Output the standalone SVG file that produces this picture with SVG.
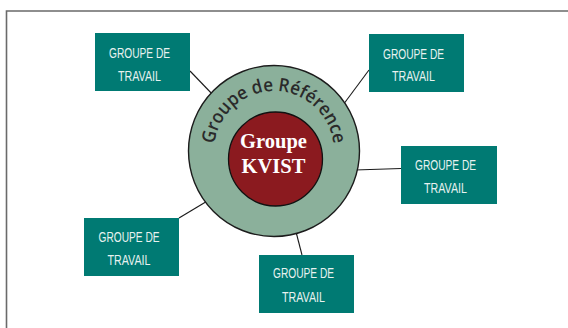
<svg xmlns="http://www.w3.org/2000/svg" width="568" height="328" viewBox="0 0 568 328">
  <style>
    .box { fill: #007a73; }
    .lbl { font-family: "Liberation Sans", Arial, sans-serif; font-size: 15px; fill: #e8f2f0; text-anchor: middle; }
    .link { stroke: #1a1a1a; stroke-width: 1.1; fill: none; }
    .ring { font-family: "Open Sans", "Noto Sans", sans-serif; font-weight: 600; font-size: 18.5px; fill: #2a2a2a; }
    .core { font-family: "Liberation Serif", "Times New Roman", serif; font-weight: bold; font-size: 20.5px; fill: #ffffff; text-anchor: middle; }
  </style>
  <defs>
    <path id="ringArc" d="M214,151 A60,60 0 0 1 334,151"/>
  </defs>
  <rect width="568" height="328" fill="#ffffff"/>
  <!-- frame -->
  <path d="M6.5,328 V11 H568" fill="none" stroke="#6a6a6a" stroke-width="1.6"/>

  <g id="connectors">
    <line class="link" x1="190" y1="71" x2="215" y2="97"/>
    <line class="link" x1="369" y1="70" x2="343" y2="105"/>
    <line class="link" x1="355" y1="170" x2="401" y2="168.5"/>
    <line class="link" x1="179" y1="218" x2="209" y2="200"/>
    <line class="link" x1="295" y1="228" x2="302" y2="255"/>
  </g>

  <g id="reference-group">
    <circle cx="274" cy="151" r="85.5" fill="#8bb09b" stroke="#1c1c1c" stroke-width="1.4"/>
    <text class="ring"><textPath href="#ringArc" startOffset="50%" text-anchor="middle" textLength="174" lengthAdjust="spacingAndGlyphs">Groupe de Référence</textPath></text>
  </g>

  <g id="kvist-group">
    <circle cx="275.5" cy="159" r="47" fill="#8b1a1f" stroke="#111111" stroke-width="1.3"/>
    <text class="core" x="273.5" y="148">Groupe</text>
    <text class="core" x="273.5" y="173">KVIST</text>
  </g>

  <g id="work-group-1">
    <rect class="box" x="95" y="33" width="95" height="58"/>
    <text class="lbl" x="139.5" y="57.5" textLength="61" lengthAdjust="spacingAndGlyphs">GROUPE DE</text>
    <text class="lbl" x="139.5" y="80.5" textLength="43" lengthAdjust="spacingAndGlyphs">TRAVAIL</text>
  </g>

  <g id="work-group-2">
    <rect class="box" x="369" y="34" width="95" height="58"/>
    <text class="lbl" x="413.5" y="58.5" textLength="61" lengthAdjust="spacingAndGlyphs">GROUPE DE</text>
    <text class="lbl" x="413.5" y="80.5" textLength="43" lengthAdjust="spacingAndGlyphs">TRAVAIL</text>
  </g>

  <g id="work-group-3">
    <rect class="box" x="401" y="146" width="96" height="58"/>
    <text class="lbl" x="445.5" y="170" textLength="61" lengthAdjust="spacingAndGlyphs">GROUPE DE</text>
    <text class="lbl" x="445.5" y="192.5" textLength="43" lengthAdjust="spacingAndGlyphs">TRAVAIL</text>
  </g>

  <g id="work-group-4">
    <rect class="box" x="84" y="218" width="95" height="58"/>
    <text class="lbl" x="129" y="241.5" textLength="61" lengthAdjust="spacingAndGlyphs">GROUPE DE</text>
    <text class="lbl" x="129" y="265" textLength="43" lengthAdjust="spacingAndGlyphs">TRAVAIL</text>
  </g>

  <g id="work-group-5">
    <rect class="box" x="259" y="255" width="95" height="58"/>
    <text class="lbl" x="303.5" y="277.5" textLength="61" lengthAdjust="spacingAndGlyphs">GROUPE DE</text>
    <text class="lbl" x="303.5" y="301.5" textLength="43" lengthAdjust="spacingAndGlyphs">TRAVAIL</text>
  </g>
</svg>
